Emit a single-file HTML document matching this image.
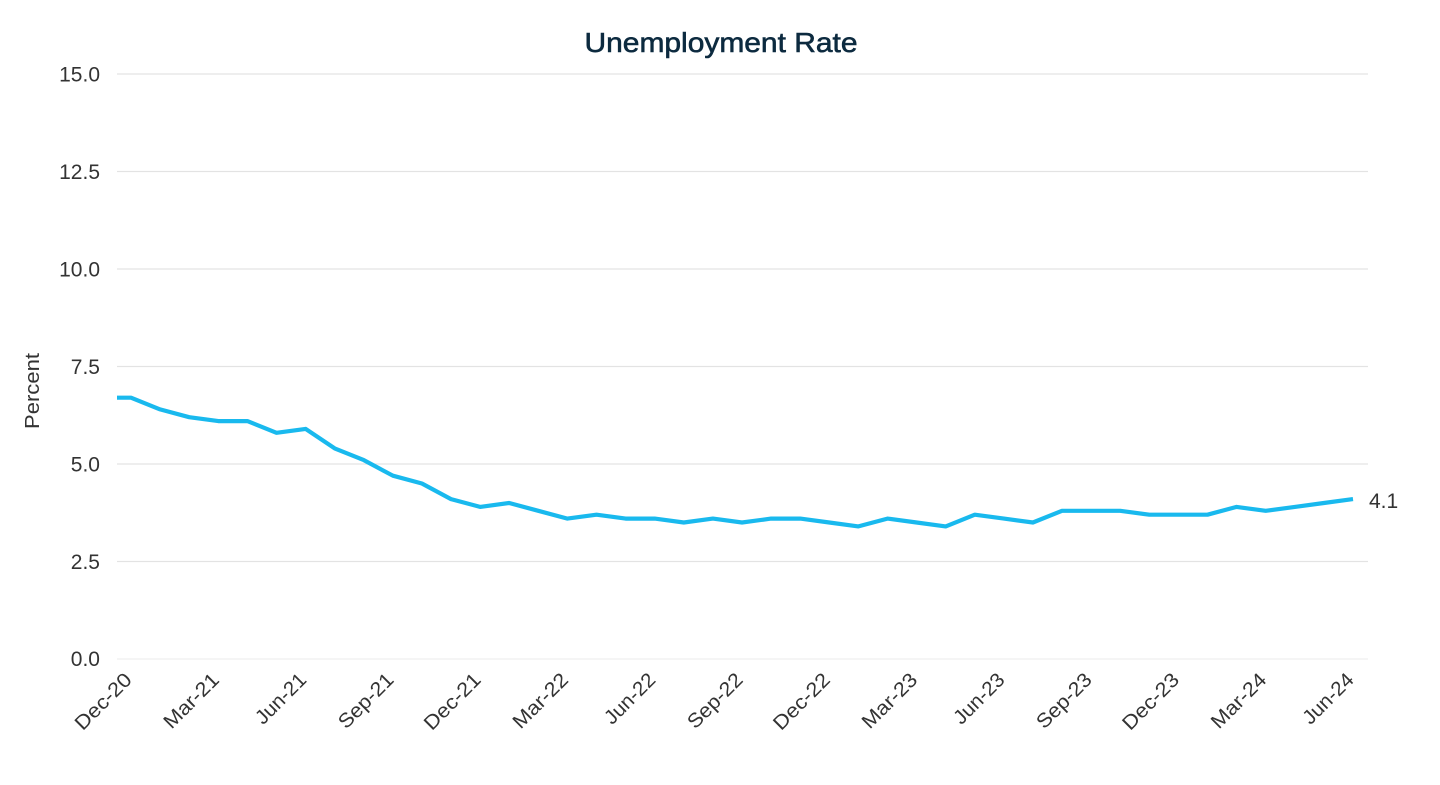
<!DOCTYPE html>
<html>
<head>
<meta charset="utf-8">
<style>
  html, body { margin: 0; padding: 0; background: #ffffff; }
  svg { display: block; }
  text { font-family: "Liberation Sans", "DejaVu Sans", sans-serif; }
</style>
</head>
<body>
<svg width="1440" height="785" viewBox="0 0 1440 785" xmlns="http://www.w3.org/2000/svg">
  <rect x="0" y="0" width="1440" height="785" fill="#ffffff"/>

  <!-- Title -->
  <text x="721" y="52" text-anchor="middle" font-size="28" fill="#0c2a3f" stroke="#0c2a3f" stroke-width="0.6" textLength="273" lengthAdjust="spacingAndGlyphs">Unemployment Rate</text>

  <!-- Gridlines -->
  <g stroke="#e3e3e3" stroke-width="1.2">
    <line x1="117" y1="74" x2="1368" y2="74"/>
    <line x1="117" y1="171.5" x2="1368" y2="171.5"/>
    <line x1="117" y1="269" x2="1368" y2="269"/>
    <line x1="117" y1="366.5" x2="1368" y2="366.5"/>
    <line x1="117" y1="464" x2="1368" y2="464"/>
    <line x1="117" y1="561.5" x2="1368" y2="561.5"/>
  </g>
  <line x1="117" y1="659" x2="1368" y2="659" stroke="#efefef" stroke-width="1.2"/>

  <!-- Y tick labels -->
  <g font-size="21" fill="#333333" text-anchor="end">
    <text x="100" y="81.5">15.0</text>
    <text x="100" y="179">12.5</text>
    <text x="100" y="276.5">10.0</text>
    <text x="100" y="374">7.5</text>
    <text x="100" y="471.5">5.0</text>
    <text x="100" y="569">2.5</text>
    <text x="100" y="666">0.0</text>
  </g>

  <!-- Y axis title -->
  <text transform="translate(39,391) rotate(-90)" text-anchor="middle" font-size="20" fill="#333333" textLength="76" lengthAdjust="spacingAndGlyphs">Percent</text>

  <!-- Series -->
  <polyline fill="none" stroke="#19b9ee" stroke-width="4.2" stroke-linejoin="round" stroke-linecap="butt"
    points="117,397.7 131,397.7 160.1,409.4 189.2,417.2 218.3,421.1 247.4,421.1 276.5,432.8 305.6,428.9 334.7,448.4 363.8,460.1 392.9,475.7 421.9,483.5 451,499.1 480.1,506.9 509.2,503 538.3,510.8 567.4,518.6 596.5,514.7 625.6,518.6 654.7,518.6 683.8,522.5 712.9,518.6 742,522.5 771.1,518.6 800.2,518.6 829.3,522.5 858.4,526.4 887.5,518.6 916.6,522.5 945.7,526.4 974.8,514.7 1003.9,518.6 1032.9,522.5 1062,510.8 1091.1,510.8 1120.2,510.8 1149.3,514.7 1178.4,514.7 1207.5,514.7 1236.6,506.9 1265.7,510.8 1294.8,506.9 1323.9,503 1353,499.1"/>

  <!-- End label -->
  <text x="1369" y="508" font-size="21" fill="#333333">4.1</text>

  <!-- X tick labels -->
  <g font-size="20" fill="#333333" text-anchor="end">
    <text transform="translate(133,681) rotate(-45)" textLength="71" lengthAdjust="spacingAndGlyphs">Dec-20</text>
    <text transform="translate(220.3,681) rotate(-45)" textLength="69" lengthAdjust="spacingAndGlyphs">Mar-21</text>
    <text transform="translate(307.6,681) rotate(-45)" textLength="63" lengthAdjust="spacingAndGlyphs">Jun-21</text>
    <text transform="translate(394.9,681) rotate(-45)" textLength="69" lengthAdjust="spacingAndGlyphs">Sep-21</text>
    <text transform="translate(482.1,681) rotate(-45)" textLength="71" lengthAdjust="spacingAndGlyphs">Dec-21</text>
    <text transform="translate(569.4,681) rotate(-45)" textLength="69" lengthAdjust="spacingAndGlyphs">Mar-22</text>
    <text transform="translate(656.7,681) rotate(-45)" textLength="63" lengthAdjust="spacingAndGlyphs">Jun-22</text>
    <text transform="translate(744,681) rotate(-45)" textLength="69" lengthAdjust="spacingAndGlyphs">Sep-22</text>
    <text transform="translate(831.3,681) rotate(-45)" textLength="71" lengthAdjust="spacingAndGlyphs">Dec-22</text>
    <text transform="translate(918.6,681) rotate(-45)" textLength="69" lengthAdjust="spacingAndGlyphs">Mar-23</text>
    <text transform="translate(1005.9,681) rotate(-45)" textLength="63" lengthAdjust="spacingAndGlyphs">Jun-23</text>
    <text transform="translate(1093.1,681) rotate(-45)" textLength="69" lengthAdjust="spacingAndGlyphs">Sep-23</text>
    <text transform="translate(1180.4,681) rotate(-45)" textLength="71" lengthAdjust="spacingAndGlyphs">Dec-23</text>
    <text transform="translate(1267.7,681) rotate(-45)" textLength="69" lengthAdjust="spacingAndGlyphs">Mar-24</text>
    <text transform="translate(1355,681) rotate(-45)" textLength="63" lengthAdjust="spacingAndGlyphs">Jun-24</text>
  </g>
</svg>
</body>
</html>
